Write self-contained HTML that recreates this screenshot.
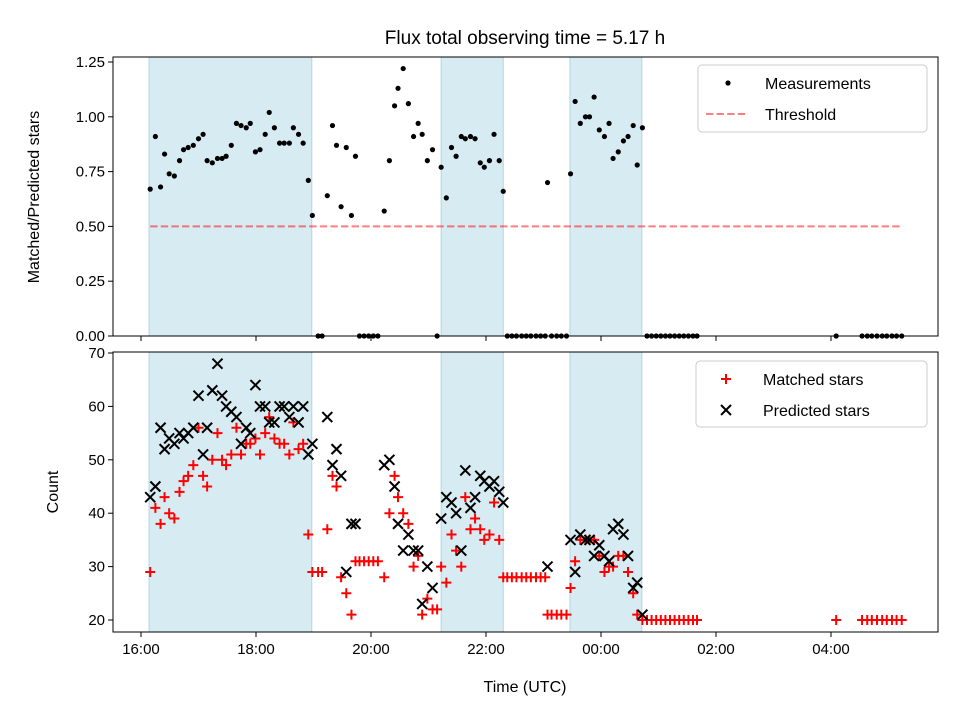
<!DOCTYPE html>
<html><head><meta charset="utf-8"><style>
body{margin:0;background:#fff;}
svg{display:block;font-family:"Liberation Sans","DejaVu Sans",sans-serif;}
</style></head><body>
<svg id="chart" width="960" height="720" viewBox="0 0 960 720"></svg>
<script>
const times=[0.16,0.25,0.34,0.41,0.49,0.58,0.67,0.74,0.82,0.91,1.00,1.08,1.15,1.24,1.33,1.41,1.48,1.57,1.66,1.74,1.83,1.90,1.99,2.07,2.16,2.23,2.32,2.41,2.49,2.58,2.65,2.74,2.82,2.91,2.98,
3.08,3.15,3.24,3.33,3.40,3.48,3.57,3.66,3.73,3.80,3.88,3.96,4.04,4.12,4.23,4.32,4.41,4.47,4.56,4.65,4.74,4.82,4.89,4.98,5.07,5.15,
5.22,5.31,5.40,5.48,5.57,5.64,5.73,5.81,5.90,5.97,6.06,6.14,6.23,6.30,
6.37,6.45,6.53,6.62,6.70,6.78,6.87,6.95,7.03,7.07,7.14,7.23,7.31,7.40,
7.47,7.55,7.64,7.73,7.80,7.88,7.97,8.06,8.14,8.21,8.30,8.39,8.47,8.56,8.63,8.72,
8.80,8.88,8.96,9.04,9.12,9.20,9.28,9.36,9.44,9.52,9.60,9.67,12.09,
12.54,12.63,12.71,12.80,12.89,12.97,13.06,13.14,13.23];
const ratio=[0.67,0.91,0.68,0.83,0.74,0.73,0.80,0.85,0.86,0.87,0.90,0.92,0.80,0.79,0.81,0.81,0.82,0.87,0.97,0.96,0.95,0.97,0.84,0.85,0.92,1.02,0.95,0.88,0.88,0.88,0.95,0.92,0.88,0.71,0.55,
0,0,0.64,0.96,0.87,0.59,0.86,0.55,0.82,0,0,0,0,0,0.57,0.80,1.05,1.13,1.22,1.06,0.91,0.97,0.92,0.80,0.85,0,
0.77,0.63,0.86,0.82,0.91,0.90,0.91,0.90,0.79,0.77,0.80,0.92,0.80,0.66,
0,0,0,0,0,0,0,0,0,0.70,0,0,0,0,
0.74,1.07,0.97,1.00,1.00,1.09,0.94,0.91,0.97,0.81,0.84,0.89,0.91,0.96,0.78,0.95,
0,0,0,0,0,0,0,0,0,0,0,0,0,
0,0,0,0,0,0,0,0,0];
const predicted=[43,45,56,52,54,53,55,54,55,56,62,51,56,63,68,62,60,59,58,53,56,55,64,60,60,57,57,60,60,58,60,57,60,51,53,
null,null,58,49,52,47,29,38,38,null,null,null,null,null,49,50,45,38,33,36,33,33,23,30,26,null,
39,43,42,40,33,48,41,43,47,46,45,46,44,42,
null,null,null,null,null,null,null,null,null,30,null,null,null,null,
35,29,36,35,35,32,34,32,31,37,38,36,32,26,27,21,
null,null,null,null,null,null,null,null,null,null,null,null,null,
null,null,null,null,null,null,null,null,null];
const matched=[29,41,38,43,40,39,44,46,47,49,56,47,45,50,55,50,49,51,56,51,53,53,54,51,55,58,54,53,53,51,57,52,53,36,29,
29,29,37,47,45,28,25,21,31,31,31,31,31,31,28,40,47,43,40,38,30,32,21,24,22,22,
30,27,36,33,30,43,37,39,37,35,36,42,35,28,
28,28,28,28,28,28,28,28,28,21,21,21,21,21,
26,31,35,35,35,35,32,29,30,30,32,32,29,25,21,20,
20,20,20,20,20,20,20,20,20,20,20,20,20,
20,20,20,20,20,20,20,20,20];
const spans=[[0.14,2.97],[5.22,6.30],[7.46,8.71]];
const xTicks=[0,2,4,6,8,10,12];
const xTickLabels=["16:00","18:00","20:00","22:00","00:00","02:00","04:00"];
const topTicks=[0,0.25,0.5,0.75,1.0,1.25];
const botTicks=[20,30,40,50,60,70];
const threshold=0.5;

const NS="http://www.w3.org/2000/svg";
const svg=document.getElementById('chart');
function el(tag,attrs,parent){const e=document.createElementNS(NS,tag);for(const k in attrs)e.setAttribute(k,attrs[k]);(parent||svg).appendChild(e);return e;}
const L=113,R=938;
const X=t=>141+t*57.5;
const T={top:57,bot:336,min:0,max:1.25};
const B={top:352,bot:632,min:20,max:70};
const Yt=v=>336-(v-0)*(336-62)/1.25;
const Yb=v=>620-(v-20)*(620-353)/50;

// title
let t=el('text',{x:525,y:44,'text-anchor':'middle','font-size':19});t.textContent='Flux total observing time = 5.17 h';



function panel(P,Y,ticks,fmt,name,showX){
  const g=el('g',{});
  
  
  spans.forEach(s=>{const r=el('rect',{x:X(s[0]),y:P.top,width:X(s[1])-X(s[0]),height:P.bot-P.top,fill:'#add8e6','fill-opacity':0.5,stroke:'#add8e6'},g);
    
    });
  ticks.forEach(v=>{const y=Y(v);el('line',{x1:L-5,x2:L,y1:y,y2:y,stroke:'#000','stroke-width':1},g);
    const tx=el('text',{x:L-8,y:y+5,'text-anchor':'end','font-size':15},g);tx.textContent=fmt(v);
    
    });
  xTicks.forEach((v,i)=>{const x=X(v);el('line',{x1:x,x2:x,y1:P.bot,y2:P.bot+5,stroke:'#000','stroke-width':1},g);
    if(showX){const tx=el('text',{x:x,y:P.bot+22,'text-anchor':'middle','font-size':15},g);tx.textContent=xTickLabels[i];
    
    }});
  return g;
}
const gt=panel(T,Yt,topTicks,v=>v.toFixed(2),'top-panel',false);
const gb=panel(B,Yb,botTicks,v=>String(v),'bottom-panel',true);

// threshold
const th=el('line',{x1:X(0.16),x2:X(13.23),y1:Yt(threshold),y2:Yt(threshold),stroke:'#ff0000','stroke-opacity':0.5,'stroke-width':2,'stroke-dasharray':'7.4,3.2'},gt);


// measurements
times.forEach((tt,i)=>{const c=el('circle',{cx:X(tt),cy:Yt(ratio[i]),r:2.6,fill:'#000'},gt);
  
  });
// matched (+)
times.forEach((tt,i)=>{if(matched[i]==null)return;const x=X(tt),y=Yb(matched[i]);
  const p=el('path',{d:`M${x-5},${y}H${x+5}M${x},${y-5}V${y+5}`,stroke:'#ff0000','stroke-width':2},gb);
  
  });
// predicted (x)
times.forEach((tt,i)=>{if(predicted[i]==null)return;const x=X(tt),y=Yb(predicted[i]);
  const p=el('path',{d:`M${x-5},${y-5}L${x+5},${y+5}M${x-5},${y+5}L${x+5},${y-5}`,stroke:'#000','stroke-width':2},gb);
  
  });

// frames
[T,B].forEach(P=>{const r=el('rect',{x:L,y:P.top,width:R-L,height:P.bot-P.top,fill:'none',stroke:'#000','stroke-width':1});
  
  });

// axis labels
let yl=el('text',{x:0,y:0,'text-anchor':'middle','font-size':16,transform:'translate(39,197) rotate(-90)'});yl.textContent='Matched/Predicted stars';


let yl2=el('text',{x:0,y:0,'text-anchor':'middle','font-size':16,transform:'translate(58,492) rotate(-90)'});yl2.textContent='Count';


let xl=el('text',{x:525,y:692,'text-anchor':'middle','font-size':16});xl.textContent='Time (UTC)';



// legends
function legend(x,y,w,h,items,name){
  const g=el('g',{});
  
  
  el('rect',{x:x,y:y,width:w,height:h,rx:4,fill:'#fff','fill-opacity':0.8,stroke:'#ccc'},g);
  items.forEach((it,i)=>{const cy=y+18+i*31;it.draw(g,x+30,cy);
    const tx=el('text',{x:x+67,y:cy+6,'font-size':16},g);tx.textContent=it.label;
    
    });
}
legend(698,65,229,67,[
 {label:'Measurements',draw:(g,x,y)=>el('circle',{cx:x,cy:y,r:2.6,fill:'#000'},g)},
 {label:'Threshold',draw:(g,x,y)=>el('line',{x1:x-22,x2:x+20,y1:y,y2:y,stroke:'#ff0000','stroke-opacity':0.5,'stroke-width':2,'stroke-dasharray':'7.4,3.2'},g)}
],'top-legend');
legend(696,361,231,66,[
 {label:'Matched stars',draw:(g,x,y)=>el('path',{d:`M${x-5},${y}H${x+5}M${x},${y-5}V${y+5}`,stroke:'#ff0000','stroke-width':2},g)},
 {label:'Predicted stars',draw:(g,x,y)=>el('path',{d:`M${x-5},${y-5}L${x+5},${y+5}M${x-5},${y+5}L${x+5},${y-5}`,stroke:'#000','stroke-width':2},g)}
],'bottom-legend');
</script>
</body></html>
